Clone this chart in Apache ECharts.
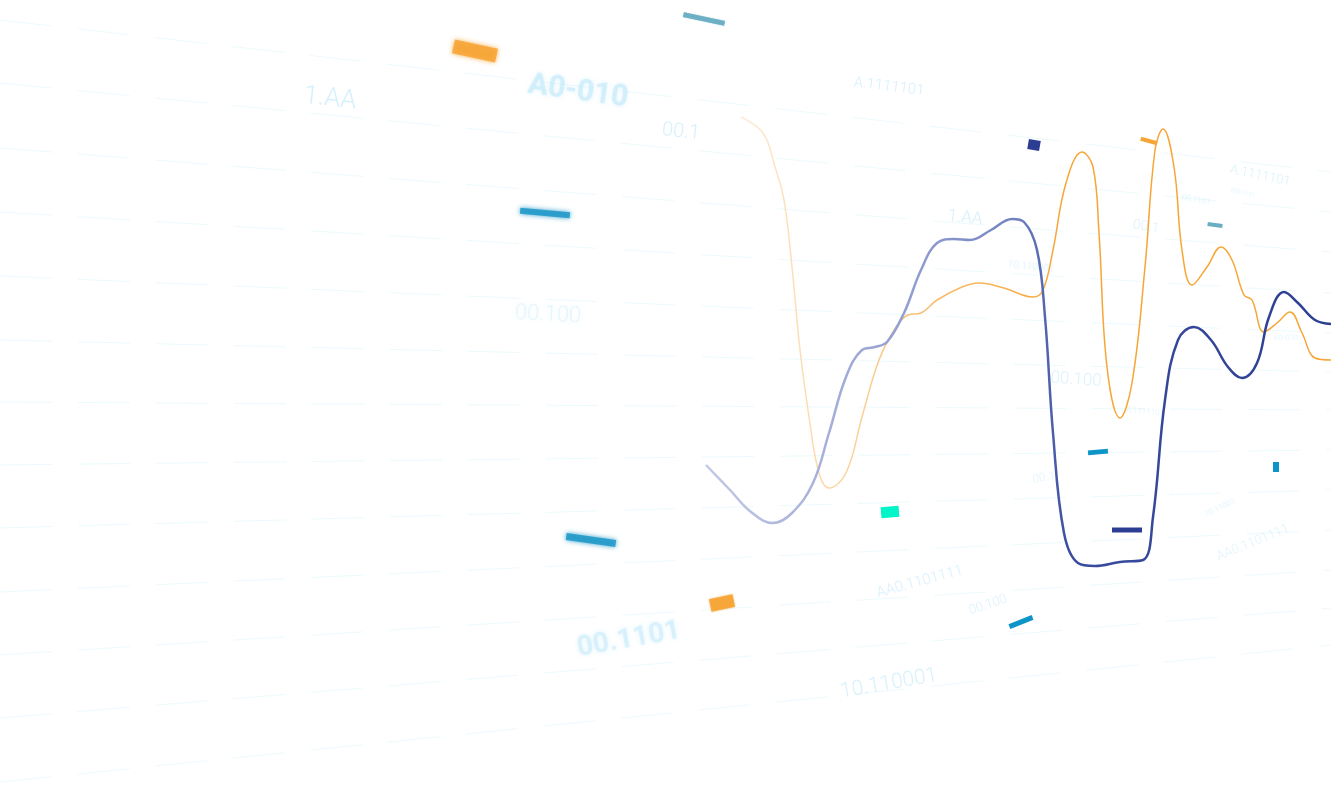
<!DOCTYPE html>
<html>
<head>
<meta charset="utf-8">
<title>chart</title>
<script src="https://cdn.jsdelivr.net/npm/echarts@6/dist/echarts.min.js"></script>
<style>
  html, body { margin: 0; padding: 0; background: #ffffff; }
  #chart { width: 1331px; height: 801px; }
</style>
</head>
<body>
<div id="chart"></div>
<script>
// curve points (x across, y down)
var orangeX = [741, 763, 775, 784, 792, 800, 809, 819, 829, 846, 862, 879, 896, 908, 921, 937, 962, 979, 1004, 1033, 1043, 1053, 1066, 1082, 1093, 1099, 1107, 1120, 1132, 1145, 1155, 1163, 1174, 1182, 1192, 1207, 1221, 1232, 1244, 1252, 1264, 1277, 1290, 1302, 1315, 1331];
var orangeY = [117, 133, 167, 200, 267, 350, 417, 473, 488, 473, 417, 360, 327, 315, 313, 300, 287, 283, 288, 297, 290, 250, 183, 152, 167, 233, 367, 418, 383, 267, 150, 129, 167, 250, 285, 267, 247, 260, 295, 300, 332, 323, 312, 333, 358, 360];

var blueX = [706, 730, 751, 773, 792, 813, 829, 846, 862, 875, 887, 904, 921, 937, 954, 970, 991, 1012, 1024, 1037, 1045, 1053, 1064, 1078, 1095, 1120, 1143, 1153, 1165, 1178, 1194, 1211, 1228, 1242, 1257, 1269, 1284, 1298, 1315, 1331];
var blueY = [465, 490, 512, 523, 513, 483, 433, 377, 350, 347, 342, 313, 270, 243, 239, 240, 230, 219, 222, 250, 317, 433, 533, 563, 566, 562, 560, 517, 400, 340, 327, 340, 367, 378, 363, 317, 292, 303, 320, 324];

// perspective guide lines: y at the left edge and at the right edge
var guideLeftY = [20, 83, 148, 212, 276, 340, 402, 465, 528, 592, 655, 718, 782];
var guideRightY = [172, 212, 252, 293, 333, 372, 410, 450, 490, 530, 570, 608, 645];

// floating labels
var labelText = ['1.AA', 'A0-010', '00.1', 'A.1111101', '00.100', '1.AA', '10.110001', '00.1', '00.1101', 'A.1111101', '000.1101',
  '00.100', 'A.1111101', '00.1', 'A0-010', '10.11001', 'AA0.1101111', 'AA0.1101111', '00.100', '00.1101', '10.110001'];
var labelX = [330, 578, 681, 889, 548, 965, 1031, 1146, 1196, 1260, 1243, 1076, 1145, 1044, 1286, 1220, 1253, 920, 988, 629, 889];
var labelY = [99, 92, 132, 87, 315, 218, 267, 227, 200, 176, 193, 380, 412, 478, 338, 508, 543, 582, 605, 640, 684];

// small floating bars
var barX = [704, 475, 545, 1034, 1149, 1215, 1098, 1276, 890, 1127, 591, 722, 1021];
var barY = [19, 51, 213, 145, 141, 225, 452, 467, 512, 530, 540, 603, 622];
var barColor = ['#6aaec4', '#f7a535', '#1e98c8', '#2c3e92', '#f7a535', '#6aaec4', '#0d95c8', '#0d95c8', '#00f5c8', '#2c3e92', '#1e98c8', '#f7a535', '#0d95c8'];

// looks of labels and bars (kept apart from the data)
var labelSize = [26, 30, 20, 15, 22, 17, 10, 14, 8, 13, 6, 17, 8, 12, 8, 8, 13, 15, 13, 28, 21];
var labelRot = [-6, -8, -6, -7, -3, -6, -6, -10, -12, -12, -12, -4, -6, 10, 0, 25, 22, 15, 18, 10, 10];
var labelAlpha = [0.8, 0.7, 0.8, 0.8, 0.45, 0.8, 0.5, 0.7, 0.45, 0.7, 0.4, 0.7, 0.6, 0.6, 0.6, 0.45, 0.6, 0.75, 0.7, 0.6, 0.75];
var labelBlur = [0, 4, 0, 0, 5, 0, 2, 0, 2, 0, 2, 0, 0, 0, 0, 2, 0, 0, 0, 5, 0];
var labelBold = [0, 1, 0, 0, 0, 0, 0, 0, 0, 0, 0, 0, 0, 0, 0, 0, 0, 0, 0, 1, 0];

var barSize = [[42, 5], [44, 14], [50, 6], [12, 10], [17, 4], [15, 4], [20, 5], [6, 10], [18, 11], [30, 5], [50, 7], [24, 13], [25, 5]];
var barRot = [-12, -12, -5, -10, -15, -8, 5, 0, 5, 0, -8, 12, 22];
var barBlur = [1, 5, 5, 0, 0, 0, 0, 0, 0, 0, 5, 2, 0];

function zip(xs, ys) {
  return xs.map(function (x, i) { return [x, ys[i]]; });
}

var guideSeries = guideLeftY.map(function (y, i) {
  return {
    type: 'line',
    data: [[0, y], [1331, guideRightY[i]]],
    symbol: 'none',
    silent: true,
    z: 1,
    lineStyle: { color: 'rgba(190, 240, 248, 0.3)', width: 1, type: [52, 26] }
  };
});

var labelData = labelText.map(function (t, i) {
  return {
    value: [labelX[i], labelY[i]],
    name: t,
    label: {
      show: true,
      position: 'inside',
      formatter: t,
      fontSize: labelSize[i],
      rotate: labelRot[i],
      fontWeight: labelBold[i] ? 'bold' : 300,
      color: 'rgba(190, 232, 250, ' + labelAlpha[i] + ')',
      textShadowColor: labelBlur[i] ? 'rgba(190, 232, 250, 0.9)' : 'transparent',
      textShadowBlur: labelBlur[i]
    }
  };
});

var barData = barX.map(function (x, i) {
  return {
    value: [x, barY[i]],
    symbolSize: barSize[i],
    symbolRotate: barRot[i],
    itemStyle: {
      color: barColor[i],
      opacity: barBlur[i] ? 0.85 : 1,
      shadowColor: barColor[i],
      shadowBlur: barBlur[i]
    }
  };
});

var chart = echarts.init(document.getElementById('chart'));

var option = {
  backgroundColor: '#ffffff',
  animation: false,
  grid: { left: 0, right: 0, top: 0, bottom: 0 },
  xAxis: { type: 'value', min: 0, max: 1331, show: false },
  yAxis: { type: 'value', min: 0, max: 801, inverse: true, show: false },
  series: guideSeries.concat([
    {
      type: 'scatter',
      data: labelData,
      symbolSize: 0,
      silent: true,
      z: 2,
      label: {
        fontFamily: 'Roboto, "DejaVu Sans", sans-serif'
      }
    },
    {
      type: 'scatter',
      data: barData,
      symbol: 'rect',
      silent: true,
      z: 3
    },
    {
      type: 'line',
      data: zip(orangeX, orangeY),
      smooth: 0.4,
      symbol: 'none',
      z: 4,
      lineStyle: {
        width: 1.5,
        color: {
          type: 'linear', x: 0, y: 0, x2: 1, y2: 0,
          colorStops: [
            { offset: 0, color: 'rgba(248, 190, 110, 0.3)' },
            { offset: 0.3, color: 'rgba(247, 170, 70, 0.75)' },
            { offset: 0.55, color: '#f7a535' },
            { offset: 1, color: '#f7a535' }
          ]
        }
      }
    },
    {
      type: 'line',
      data: zip(blueX, blueY),
      smooth: 0.4,
      symbol: 'none',
      z: 5,
      lineStyle: {
        width: 2.5,
        color: {
          type: 'linear', x: 0, y: 0, x2: 1, y2: 0,
          colorStops: [
            { offset: 0, color: '#c3c9e6' },
            { offset: 0.35, color: '#8e9bd0' },
            { offset: 0.5, color: '#7180c0' },
            { offset: 0.58, color: '#3a4ca0' },
            { offset: 1, color: '#2c3e92' }
          ]
        }
      }
    }
  ])
};

chart.setOption(option);
</script>
</body>
</html>
